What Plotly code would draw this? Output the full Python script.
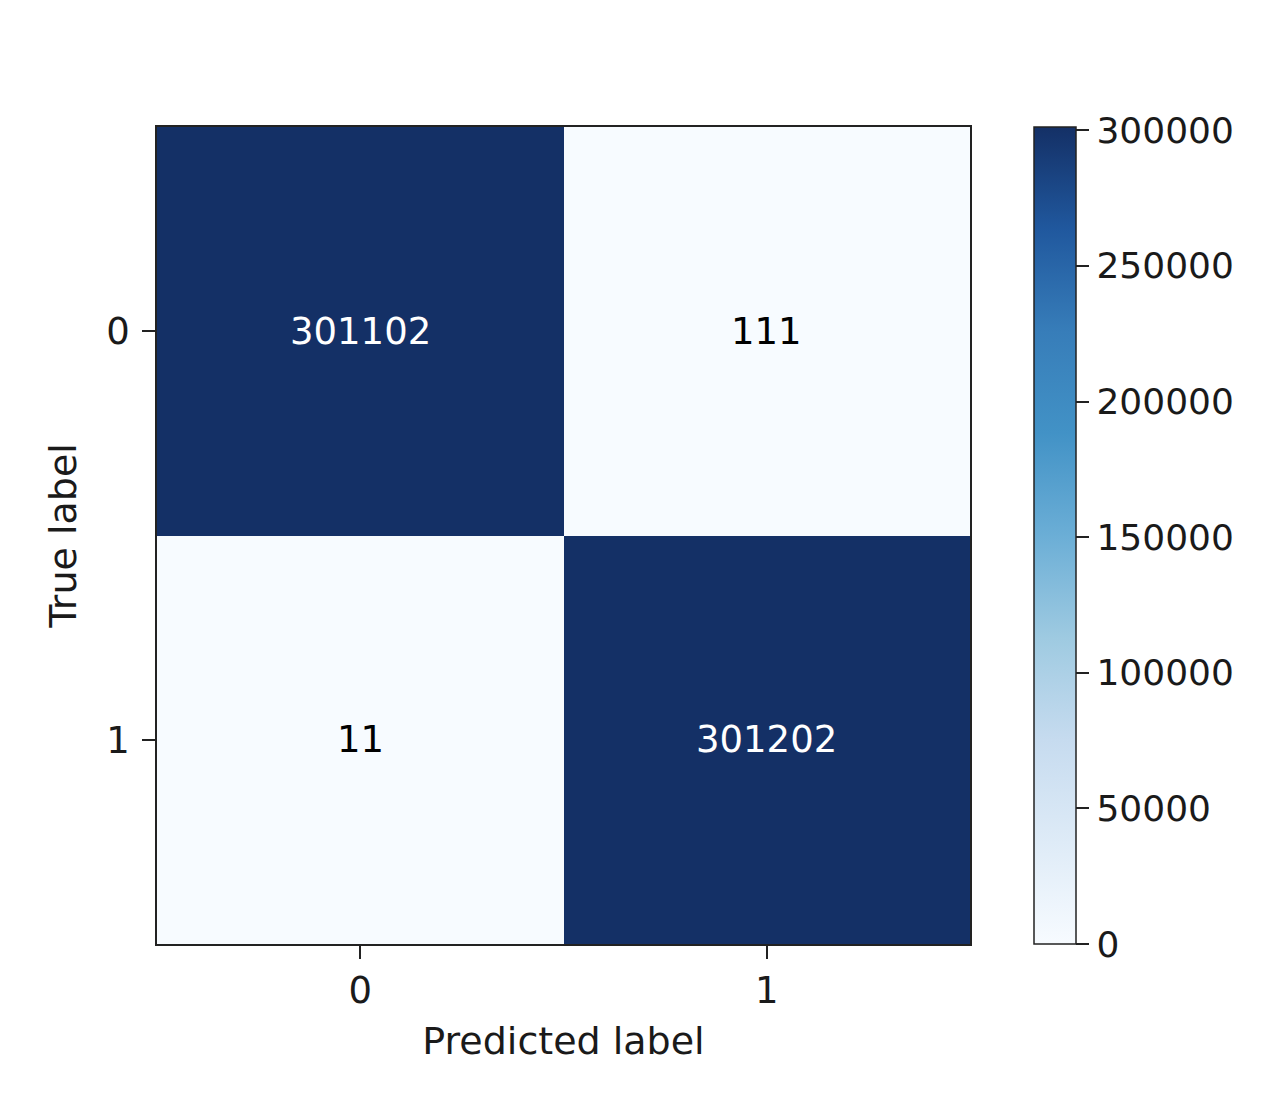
import plotly.graph_objects as go
import plotly.express as px

# confusion matrix values
classes = ["0", "1"]
counts = [[301102, 111],
          [11, 301202]]
cbar_ticks = [0, 50000, 100000, 150000, 200000, 250000, 300000]

FONT = "DejaVu Sans"
TXT = "#1a1a1a"


def main():
    vmax = max(max(r) for r in counts)
    # matplotlib "Blues", dark end toned a bit like the original render
    blues = list(px.colors.sequential.Blues)
    blues[-1] = "rgb(20,48,102)"
    blues[-2] = "rgb(32,88,158)"
    blues[-3] = "rgb(55,125,185)"

    fig = go.Figure(go.Heatmap(
        z=counts,
        x=[0, 1],
        y=[0, 1],
        zmin=0,
        zmax=vmax,
        colorscale=blues,
        hoverinfo="z",
        colorbar=dict(
            x=1.0786, xanchor="left",
            y=0, yanchor="bottom", len=1, lenmode="fraction",
            thickness=42, ypad=0, xpad=0,
            outlinewidth=1.5, outlinecolor="#222",
            tickvals=cbar_ticks,
            ticktext=[str(t) for t in cbar_ticks],
            ticks="outside", ticklen=13, tickwidth=1.5, tickcolor="#222",
            tickfont=dict(family=FONT, size=36, color=TXT),
        ),
    ))

    # cell labels, white on dark cells like sklearn
    thresh = vmax / 2.0
    for i in range(len(classes)):
        for j in range(len(classes)):
            v = counts[i][j]
            fig.add_annotation(
                x=j, y=i, text=str(v), showarrow=False,
                font=dict(family=FONT, size=37,
                          color="white" if v > thresh else "black"),
            )

    axis_common = dict(
        tickvals=[0, 1], ticktext=classes,
        ticks="outside", ticklen=13, tickwidth=1.5, tickcolor="#222",
        showline=True, linecolor="#222", linewidth=1.5, mirror=True,
        showgrid=False, zeroline=False,
        tickfont=dict(family=FONT, size=37, color=TXT),
        title_font=dict(family=FONT, size=38, color=TXT),
    )
    fig.update_xaxes(range=[-0.5, 1.5], title_text="Predicted label",
                     title_standoff=16, **axis_common)
    fig.update_yaxes(range=[1.5, -0.5], title_text="True label",
                     title_standoff=18, ticklabelstandoff=5, **axis_common)

    fig.update_layout(
        width=1276, height=1094,
        margin=dict(l=149, r=314, t=119, b=158),
        plot_bgcolor="white", paper_bgcolor="white",
        font=dict(family=FONT, color=TXT),
    )
    fig.write_html("out.html")


if __name__ == '__main__':
    main()
